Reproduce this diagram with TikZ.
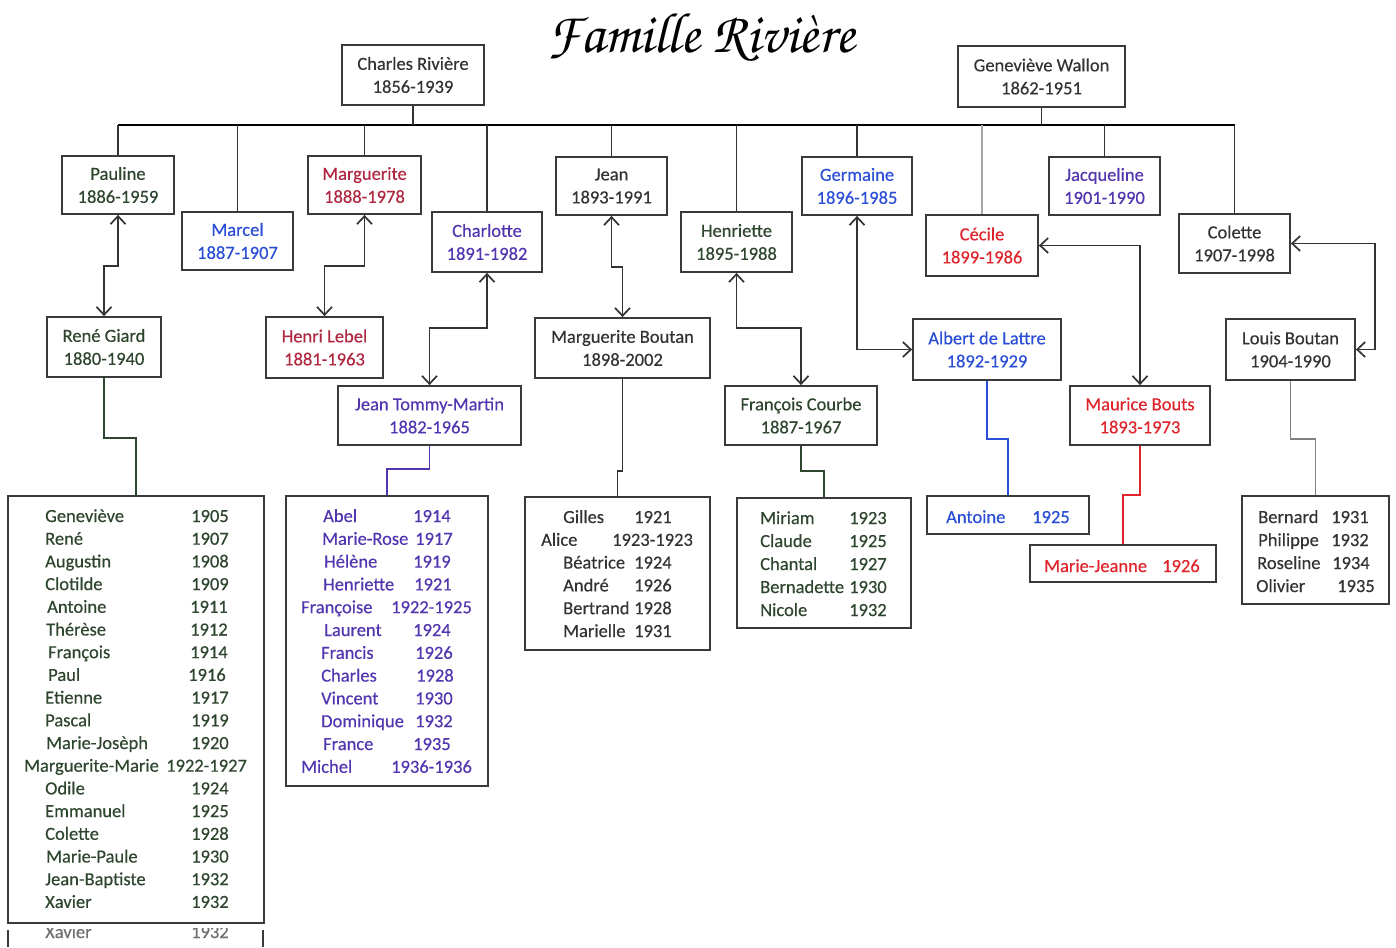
\documentclass[tikz,border=0pt]{standalone}
\usepackage[T1]{fontenc}
\usepackage{fontspec}
\setmainfont{Carlito}[FakeBold=0.35]
\usetikzlibrary{arrows.meta}
\definecolor{ink}{HTML}{333333}
\definecolor{grn}{HTML}{2E452E}
\definecolor{crim}{HTML}{B02840}
\definecolor{blu}{HTML}{2A4FD6}
\definecolor{pur}{HTML}{5236B0}
\definecolor{rd}{HTML}{E0242C}
\definecolor{frame}{HTML}{3A3A3A}
\tikzset{
 fam/.style={draw=frame, line width=1.8pt, fill=white, align=center, inner sep=0pt, font=\fontsize{18.5}{23}\selectfont},
 row/.style={anchor=base west, inner sep=0pt, font=\fontsize{18.5}{22}\selectfont},
 link/.style={draw=ink, line width=1.7pt},
 wed/.style={draw=ink, line width=1.7pt, {Straight Barb[length=8pt,width=15pt]}-{Straight Barb[length=8pt,width=15pt]}},
}
\newcommand\famnode[7]{\node[fam, text=#6, minimum width={(#4-#2)*1pt}, minimum height={(#5-#3)*1pt}] (#1) at ({(#2+#4)/2},{(#3+#5)/2}) {#7};}
\begin{document}
\begin{tikzpicture}[x=1pt,y=-1pt]
\useasboundingbox (0,0) rectangle (1396,947);
\fill[white] (0,0) rectangle (1396,947);
% title
\node[inner sep=0pt] (title) at (701,37) {\fontencoding{T1}\fontfamily{pzc}\fontseries{mb}\fontshape{it}\fontsize{57}{60}\selectfont Famille Rivière};
% people
\famnode{charles}{342}{45}{484}{105}{ink}{Charles Rivière\\1856-1939}
\famnode{genev}{958}{46}{1125}{107}{ink}{Geneviève Wallon\\1862-1951}
\famnode{pauline}{62}{156}{174}{214}{grn}{Pauline\\1886-1959}
\famnode{marcel}{182}{212}{293}{270}{blu}{Marcel\\1887-1907}
\famnode{margu}{308}{156}{421}{214}{crim}{Marguerite\\1888-1978}
\famnode{charl}{432}{212}{542}{272}{pur}{Charlotte\\1891-1982}
\famnode{jean}{556}{157}{667}{215}{ink}{Jean\\1893-1991}
\famnode{henr}{681}{212}{792}{272}{grn}{Henriette\\1895-1988}
\famnode{germ}{802}{157}{912}{215}{blu}{Germaine\\1896-1985}
\famnode{cecile}{926}{215}{1038}{276}{rd}{Cécile\\1899-1986}
\famnode{jacq}{1049}{157}{1160}{215}{pur}{Jacqueline\\1901-1990}
\famnode{colette}{1179}{214}{1290}{273}{ink}{Colette\\1907-1998}
\famnode{rene}{47}{317}{161}{377}{grn}{René Giard\\1880-1940}
\famnode{henri}{266}{317}{383}{378}{crim}{Henri Lebel\\1881-1963}
\famnode{jtm}{338}{386}{521}{445}{pur}{Jean Tommy-Martin\\1882-1965}
\famnode{mbout}{535}{318}{710}{378}{ink}{Marguerite Boutan\\1898-2002}
\famnode{fcour}{725}{386}{877}{445}{grn}{François Courbe\\1887-1967}
\famnode{albert}{913}{319}{1061}{380}{blu}{Albert de Lattre\\1892-1929}
\famnode{maurice}{1070}{386}{1210}{445}{rd}{Maurice Bouts\\1893-1973}
\famnode{louis}{1226}{319}{1355}{380}{ink}{Louis Boutan\\1904-1990}
% children boxes
\famnode{glist}{8}{496}{264}{923}{grn}{}
\famnode{tlist}{286}{496}{488}{786}{pur}{}
\famnode{blist}{525}{497}{710}{650}{ink}{}
\famnode{clist}{737}{498}{911}{628}{grn}{}
\famnode{alist}{927}{496}{1089}{534}{blu}{}
\famnode{mlist}{1030}{545}{1216}{582}{rd}{}
\famnode{llist}{1242}{496}{1389}{604}{ink}{}
% rows
\foreach \nm/\nx/\yr/\yx [count=\i] in {Geneviève/45/1905/191, René/45/1907/191, Augustin/45/1908/191, Clotilde/45/1909/191, Antoine/47/1911/190, Thérèse/46/1912/190, François/48/1914/190, Paul/48/1916/188, Etienne/45/1917/191, Pascal/45/1919/191, Marie-Josèph/46/1920/191, Marguerite-Marie/24/1922-1927/166, Odile/45/1924/191, Emmanuel/45/1925/191, Colette/45/1928/191, Marie-Paule/46/1930/191, Jean-Baptiste/45/1932/191, Xavier/45/1932/191}{
 \node[row,text=grn] (ga\i) at (\nx,{522+22.7*(\i-1)}) {\nm};
 \node[row,text=grn] (gb\i) at (\yx,{522+22.7*(\i-1)}) {\yr};
}
\foreach \nm/\nx/\yr/\yx [count=\i] in {Abel/323/1914/413, Marie-Rose/322/1917/415, Hélène/324/1919/413, Henriette/323/1921/414, Françoise/301/1922-1925/391, Laurent/324/1924/413, Francis/321/1926/415, Charles/321/1928/416, Vincent/321/1930/415, Dominique/321/1932/415, France/323/1935/413, Michel/301/1936-1936/391}{
 \node[row,text=pur] (ta\i) at (\nx,{522+22.8*(\i-1)}) {\nm};
 \node[row,text=pur] (tb\i) at (\yx,{522+22.8*(\i-1)}) {\yr};
}
\foreach \nm/\nx/\yr/\yx [count=\i] in {Gilles/563/1921/634, Alice/541/1923-1923/612, Béatrice/563/1924/634, André/563/1926/634, Bertrand/563/1928/634, Marielle/563/1931/634}{
 \node[row,text=ink] (ba\i) at (\nx,{523+22.8*(\i-1)}) {\nm};
 \node[row,text=ink] (bb\i) at (\yx,{523+22.8*(\i-1)}) {\yr};
}
\foreach \nm/\nx/\yr/\yx [count=\i] in {Miriam/760/1923/849, Claude/760/1925/849, Chantal/760/1927/849, Bernadette/760/1930/849, Nicole/760/1932/849}{
 \node[row,text=grn] (ca\i) at (\nx,{524+23*(\i-1)}) {\nm};
 \node[row,text=grn] (cb\i) at (\yx,{524+23*(\i-1)}) {\yr};
}
\foreach \nm/\nx/\yr/\yx [count=\i] in {Bernard/1258/1931/1331, Philippe/1258/1932/1331, Roseline/1257/1934/1332, Olivier/1256/1935/1337}{
 \node[row,text=ink] (la\i) at (\nx,{523+23*(\i-1)}) {\nm};
 \node[row,text=ink] (lb\i) at (\yx,{523+23*(\i-1)}) {\yr};
}
\node[row,text=blu] (aa1) at (946,523) {Antoine};
\node[row,text=blu] (ab1) at (1032,523) {1925};
\node[row,text=rd] (ma1) at (1044,572) {Marie-Jeanne};
\node[row,text=rd] (mb1) at (1162,572) {1926};
% tree bar
\coordinate (bar) at (0,125);
\draw[link, line width=2.6pt, draw=black] (pauline.north |- bar) -- (colette.north |- bar);
\foreach \c in {charles, genev} \draw[link] (\c.south) -- (\c.south |- bar);
\foreach \c in {pauline, marcel, margu, charl, jean, henr, germ, jacq, colette} \draw[link] (\c.north) -- (\c.north |- bar);
\draw[link, draw=gray!70, line width=1.1pt] (cecile.north) -- (cecile.north |- bar);
% marriages
\draw[wed] (pauline.south) -- ++(0,51) -| (rene.north);
\draw[wed] (margu.south) -- ++(0,51) -| (henri.north);
\draw[wed] (charl.south) -- ++(0,55) -| (jtm.north);
\draw[wed] (jean.south) -- ++(0,51) -| (mbout.north);
\draw[wed] (henr.south) -- ++(0,55) -| (fcour.north);
\draw[wed] (germ.south) |- (albert.west);
\draw[wed] (cecile.east) -| (maurice.north);
\draw[wed] (colette.east) -- ++(84,0) |- (louis.east);
% descendants
\draw[link, draw=grn] (rene.south) -- ++(0,60) -| (glist.north);
\draw[link, draw=pur] (jtm.south) -- ++(0,23) -| (tlist.north);
\draw[link] (mbout.south) -- ++(0,92) -| (blist.north);
\draw[link, draw=grn] (fcour.south) -- ++(0,25) -| (clist.north);
\draw[link, draw=blu] (albert.south) -- ++(0,58) -| (alist.north);
\draw[link, draw=rd] (maurice.south) -- ++(0,49) -| (mlist.north);
\draw[link, draw=gray] (louis.south) -- ++(0,58) -| (llist.north);
% scan remnant at the bottom
\begin{scope}
\clip (0,928) rectangle (1396,947);
\node[row,text=ink!70] (gx1) at (45,938) {Xavier};
\node[row,text=ink!70] (gx2) at (191,938) {1932};
\end{scope}
\draw[frame, line width=1.8pt] (8,930) -- (8,947);
\draw[frame, line width=1.8pt] (263,930) -- (263,947);
\end{tikzpicture}
\end{document}
